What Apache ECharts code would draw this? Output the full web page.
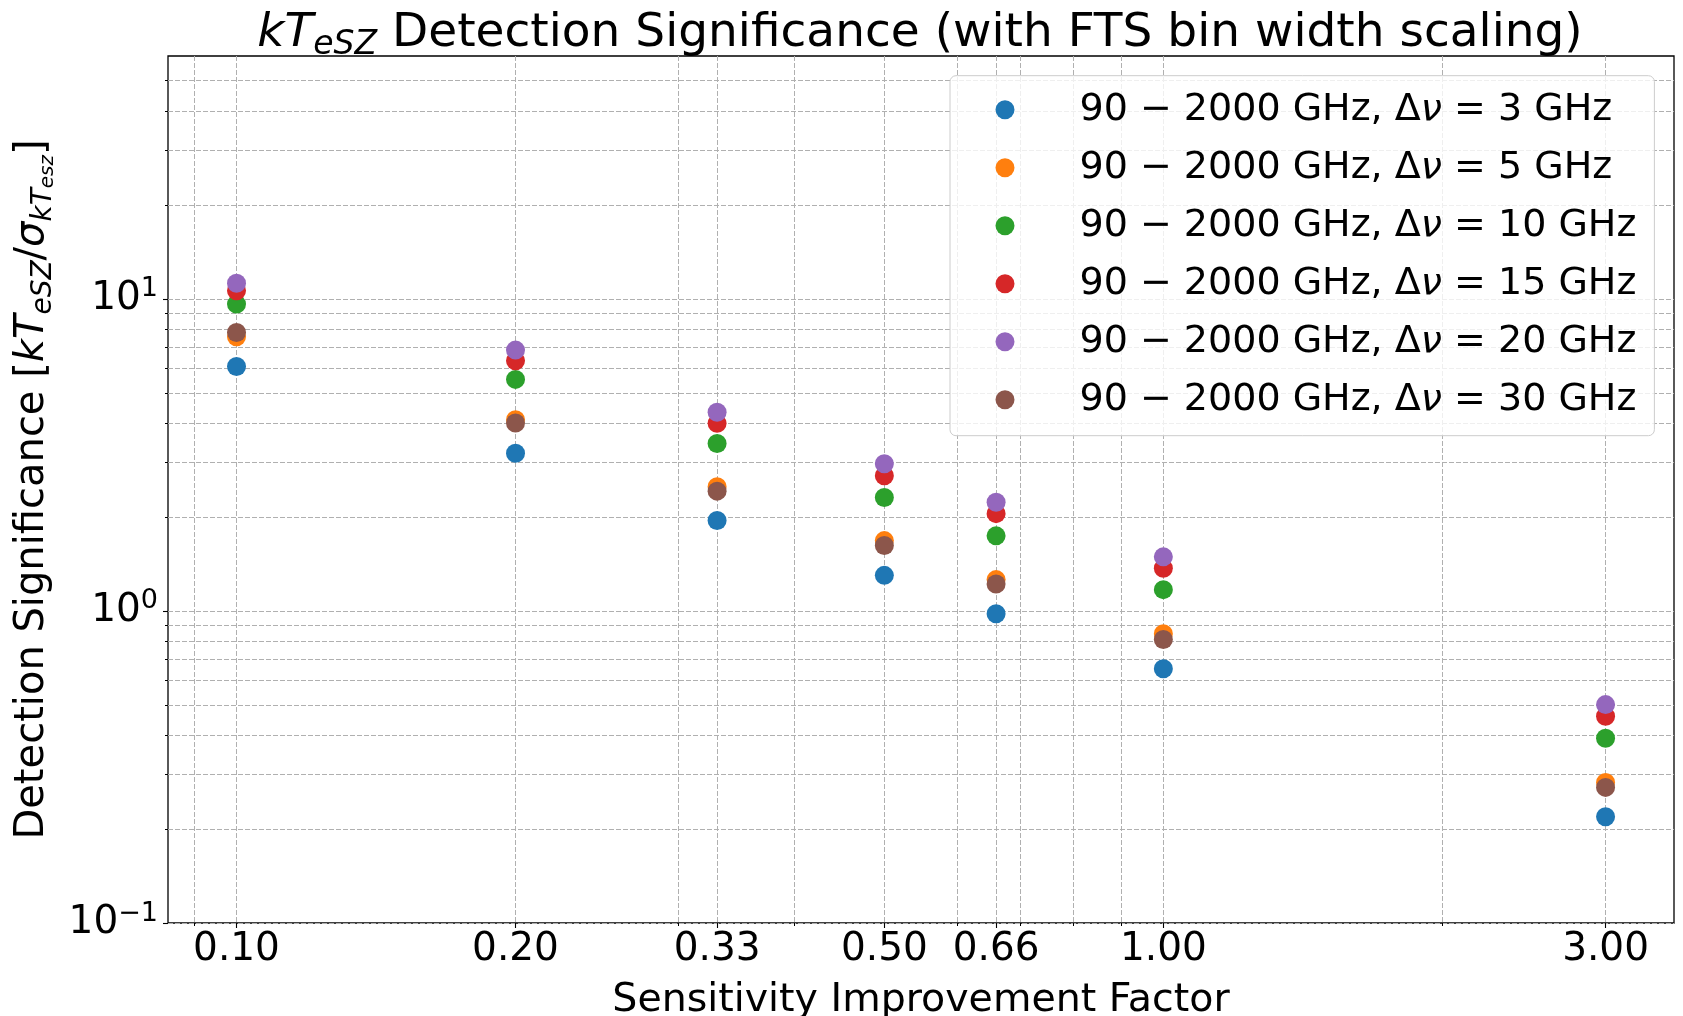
<!DOCTYPE html>
<html>
<head>
<meta charset="utf-8">
<script src="https://cdn.jsdelivr.net/npm/echarts@6/dist/echarts.min.js"></script>
<style>
  html, body { margin: 0; padding: 0; background: #ffffff; }
  #chart { width: 1683px; height: 1016px; }
</style>
</head>
<body>
<div id="chart"></div>
<script>
// Sensitivity improvement factors (x) and kT_eSZ detection significance per FTS bin width
const improvementFactors = [0.10, 0.20, 0.33, 0.50, 0.66, 1.00, 3.00];
const binWidthsGHz = [3, 5, 10, 15, 20, 30];
const significanceBin3  = [6.07, 3.20, 1.95, 1.30, 0.98, 0.653, 0.219];
const significanceBin5  = [7.56, 4.10, 2.50, 1.68, 1.26, 0.845, 0.282];
const significanceBin10 = [9.62, 5.52, 3.44, 2.31, 1.74, 1.17, 0.391];
const significanceBin15 = [10.61, 6.33, 3.99, 2.71, 2.05, 1.37, 0.460];
const significanceBin20 = [11.22, 6.85, 4.33, 2.96, 2.23, 1.49, 0.501];
const significanceBin30 = [7.80, 4.00, 2.42, 1.62, 1.22, 0.81, 0.272];

// Tick values for the log axes
const xMajorTicks = [0.10, 0.20, 0.33, 0.50, 0.66, 1.00, 3.00];
const xMinorTicks = [0.09, 0.3, 0.4, 0.6, 0.7, 0.8, 0.9, 2];
const yMajorTicks = [0.1, 1, 10];
const yMinorTicks = [0.2, 0.3, 0.4, 0.5, 0.6, 0.7, 0.8, 0.9, 2, 3, 4, 5, 6, 7, 8, 9, 20, 30, 40, 50];

const seriesValues = [significanceBin3, significanceBin5, significanceBin10,
                      significanceBin15, significanceBin20, significanceBin30];
const palette = ['#1f77b4', '#ff7f0e', '#2ca02c', '#d62728', '#9467bd', '#8c564b'];

const FONT = '"DejaVu Sans", sans-serif';
const X_MIN = 0.08435, X_MAX = 3.556, Y_MIN = 0.1, Y_MAX = 60;

const gridLine = { show: true, lineStyle: { color: '#b0b0b0', width: 1, type: [5, 2] } };

const series = binWidthsGHz.map((bw, i) => ({
  type: 'scatter',
  name: '90 − 2000 GHz, Δν = ' + bw + ' GHz',
  xAxisIndex: 0,
  yAxisIndex: 0,
  symbol: 'circle',
  symbolSize: 19,
  itemStyle: { color: palette[i], opacity: 1 },
  emphasis: { disabled: true },
  data: improvementFactors.map((f, j) => [f, seriesValues[i][j]])
}));

function powerLabel(v) {
  const e = Math.round(Math.log10(v));
  return '{b|10}{s|' + (e < 0 ? '−' + (-e) : String(e)) + '}';
}

// Legend entries with an italic nu
function legendText(name) {
  return name.replace('ν', '{nu|ν}');
}

const chart = echarts.init(document.getElementById('chart'), null, { renderer: 'canvas' });
chart.setOption({
  animation: false,
  backgroundColor: '#ffffff',
  textStyle: { fontFamily: FONT },
  title: {
    text: '{i|kT}{sub|eSZ}{n| Detection Significance (with FTS bin width scaling)}',
    left: 920,
    top: 6,
    padding: 0,
    textAlign: 'center',
    textStyle: {
      fontWeight: 'normal',
      rich: {
        n: { fontFamily: FONT, fontSize: 47, lineHeight: 56, fontWeight: 'normal', color: '#000' },
        i: { fontFamily: FONT, fontSize: 47, lineHeight: 56, fontStyle: 'italic', fontWeight: 'normal', color: '#000' },
        sub: { fontFamily: FONT, fontSize: 33, lineHeight: 28, fontStyle: 'italic', fontWeight: 'normal', verticalAlign: 'bottom', color: '#000' }
      }
    }
  },
  legend: {
    orient: 'vertical',
    left: 950,
    top: 75.7,
    padding: [12, 18, 14, 45.5],
    itemWidth: 19,
    itemHeight: 19,
    itemGap: 14,
    backgroundColor: 'rgba(255,255,255,0.8)',
    borderColor: '#cccccc',
    borderWidth: 1,
    borderRadius: 6,
    selectedMode: false,
    icon: 'circle',
    formatter: legendText,
    textStyle: {
      fontFamily: FONT,
      fontSize: 38,
      lineHeight: 44,
      color: '#000',
      padding: [0, 0, 0, 60],
      rich: {
        nu: { fontFamily: FONT, fontSize: 38, lineHeight: 44, fontStyle: 'italic', color: '#000' }
      }
    }
  },
  grid: {
    left: 168, right: 9, top: 56, bottom: 93,
    show: true,
    borderColor: '#000',
    borderWidth: 1.3,
    backgroundColor: 'transparent',
    containLabel: false,
    outerBoundsMode: 'none'
  },
  xAxis: [
    {
      type: 'log', logBase: 10, min: X_MIN, max: X_MAX,
      position: 'bottom',
      axisLine: { show: false },
      axisTick: { show: true, length: 3, lineStyle: { color: '#000', width: 1 },
                  customValues: xMajorTicks.concat(xMinorTicks) },
      axisLabel: { show: false },
      splitLine: gridLine,
      minorTick: { show: false },
      minorSplitLine: { show: false }
    },
    {
      type: 'log', logBase: 10, min: X_MIN, max: X_MAX,
      position: 'bottom',
      name: 'Sensitivity Improvement Factor',
      nameLocation: 'middle',
      nameGap: 47.5,
      nameTextStyle: { fontFamily: FONT, fontSize: 39.5, lineHeight: 46, color: '#000' },
      axisLine: { show: false },
      axisTick: { show: true, length: 5, lineStyle: { color: '#000', width: 1.1 },
                  customValues: xMajorTicks },
      axisLabel: {
        show: true, customValues: xMajorTicks, margin: 4,
        fontFamily: FONT, fontSize: 39, lineHeight: 46, color: '#000',
        formatter: v => Number(v).toFixed(2)
      },
      splitLine: { show: false }
    }
  ],
  yAxis: [
    {
      type: 'log', logBase: 10, min: Y_MIN, max: Y_MAX,
      position: 'left',
      axisLine: { show: false },
      axisTick: { show: true, length: 3, lineStyle: { color: '#000', width: 1 },
                  customValues: yMajorTicks.concat(yMinorTicks) },
      axisLabel: { show: false },
      splitLine: gridLine,
      minorTick: { show: false },
      minorSplitLine: { show: false }
    },
    {
      type: 'log', logBase: 10, min: Y_MIN, max: Y_MAX,
      position: 'left',
      name: 'Detection Significance [{i|kT}{s1|eSZ}/{i|σ}{s1|kT}{s2|esz}]',
      nameLocation: 'middle',
      nameRotate: 90,
      nameGap: 110,
      nameTextStyle: {
        fontFamily: FONT, fontSize: 40, lineHeight: 51, color: '#000',
        rich: {
          i: { fontFamily: FONT, fontSize: 40, lineHeight: 51, fontStyle: 'italic', color: '#000' },
          s1: { fontFamily: FONT, fontSize: 28, lineHeight: 26, fontStyle: 'italic', verticalAlign: 'bottom', color: '#000' },
          s2: { fontFamily: FONT, fontSize: 20, lineHeight: 10, fontStyle: 'italic', verticalAlign: 'bottom', color: '#000' }
        }
      },
      axisLine: { show: false },
      axisTick: { show: true, length: 5, lineStyle: { color: '#000', width: 1.1 },
                  customValues: yMajorTicks },
      axisLabel: {
        show: true, customValues: yMajorTicks, margin: 10,
        formatter: v => powerLabel(v),
        rich: {
          b: { fontFamily: FONT, fontSize: 39, lineHeight: 46, color: '#000' },
          s: { fontFamily: FONT, fontSize: 27, lineHeight: 26, verticalAlign: 'top', color: '#000' }
        }
      },
      splitLine: { show: false }
    }
  ],
  series: series
});
</script>
</body>
</html>
